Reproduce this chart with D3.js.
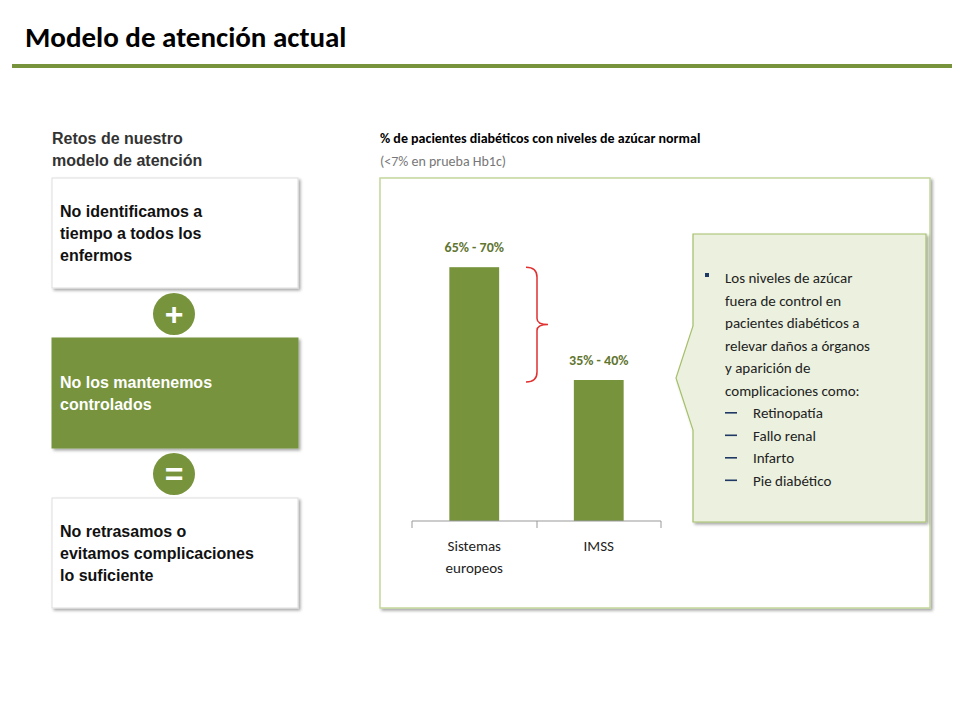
<!DOCTYPE html>
<html><head><meta charset="utf-8">
<script src="https://cdn.jsdelivr.net/npm/d3@7"></script>
<style>body{margin:0;background:#fff}</style>
</head><body>
<svg id="mainplot"></svg>
<script>
var categories = [["Sistemas", "europeos"], ["IMSS"]]
var values = [67.5, 37.5]
var labels = ["65% - 70%", "35% - 40%"]
var retos = [["No identificamos a", "tiempo a todos los", "enfermos"], ["No los mantenemos", "controlados"], ["No retrasamos o", "evitamos complicaciones", "lo suficiente"]]
var operators = ["+", "="]
var bullets = ["Los niveles de azúcar", "fuera de control en", "pacientes diabéticos a", "relevar daños a órganos", "y aparición de", "complicaciones como:"]
var subitems = ["Retinopatía", "Fallo renal", "Infarto", "Pie diabético"]

var width = 960, height = 720
var green = "#77933c"
var graph = d3.select("#mainplot").attr("width", width).attr("height", height)
	.style("font-family", "Arial, 'Liberation Sans', sans-serif")

var defs = graph.append("defs")
var f = defs.append("filter").attr("id", "sh").attr("x", "-10%").attr("y", "-10%").attr("width", "130%").attr("height", "130%")
f.append("feDropShadow").attr("dx", 2).attr("dy", 2).attr("stdDeviation", 1.5).attr("flood-color", "#000").attr("flood-opacity", 0.35)

graph.append("text").attr("x", 25).attr("y", 47).attr("font-size", 29).attr("font-weight", "bold")
	.attr("font-family", "Calibri, Carlito, 'Liberation Sans', sans-serif").text("Modelo de atención actual")
graph.append("rect").attr("x", 12).attr("y", 64).attr("width", 940).attr("height", 4).attr("fill", green)

// left column
graph.append("text").attr("x", 52).attr("y", 144).attr("font-size", 16).attr("font-weight", "bold").attr("fill", "#333")
	.selectAll("tspan").data(["Retos de nuestro", "modelo de atención"]).join("tspan")
	.attr("x", 52).attr("dy", (d, i) => i ? 22 : 0).text(d => d)

retos.forEach(function (lines, i) {
	var y = 178 + i * 160
	graph.append("rect").attr("x", 52).attr("y", y).attr("width", 246).attr("height", 110)
		.attr("fill", i == 1 ? green : "#fff").attr("stroke", i == 1 ? green : "#ddd").attr("filter", "url(#sh)")
	var ty = y + 55 - (lines.length - 1) * 11 + 6
	graph.append("text").attr("font-size", 16).attr("font-weight", "bold").attr("fill", i == 1 ? "#fff" : "#111")
		.selectAll("tspan").data(lines).join("tspan")
		.attr("x", 60).attr("y", (d, j) => ty + j * 22).text(d => d)
})
operators.forEach(function (op, i) {
	var cy = 314 + i * 160
	graph.append("circle").attr("cx", 174).attr("cy", cy).attr("r", 21).attr("fill", green)
	graph.append("text").attr("x", 174).attr("y", cy + 11).attr("text-anchor", "middle").attr("font-size", 32)
		.attr("font-weight", "bold").attr("fill", "#fff").text(op)
})

// right panel
var cal = "Calibri, Carlito, 'Open Sans', sans-serif"
graph.append("text").attr("x", 380).attr("y", 143).attr("font-size", 14).attr("font-weight", "bold").attr("font-family", cal)
	.text("% de pacientes diabéticos con niveles de azúcar normal")
graph.append("text").attr("x", 380).attr("y", 166).attr("font-size", 14).attr("fill", "#777").attr("font-family", cal)
	.text("(<7% en prueba Hb1c)")
graph.append("rect").attr("x", 380).attr("y", 178).attr("width", 550).attr("height", 430)
	.attr("fill", "#fff").attr("stroke", "#c3d69b").attr("stroke-width", 1.5).attr("filter", "url(#sh)")

var x = d3.scaleBand().domain(d3.range(values.length)).range([412, 661]).paddingInner(0.6).paddingOuter(0.3)
var y = d3.scaleLinear().domain([0, 100]).range([521, 145])
graph.append("g").selectAll("rect").data(values).join("rect")
	.attr("x", (d, i) => x(i)).attr("width", x.bandwidth()).attr("y", d => y(d)).attr("height", d => 521 - y(d)).attr("fill", green)
graph.append("g").selectAll("text").data(values).join("text")
	.attr("x", (d, i) => x(i) + x.bandwidth() / 2).attr("y", d => y(d) - 15).attr("text-anchor", "middle")
	.attr("font-size", 14).attr("font-weight", "bold").attr("fill", "#5f7530").attr("font-family", cal)
	.text((d, i) => labels[i])
var ax = graph.append("g").attr("stroke", "#999")
ax.append("line").attr("x1", 412).attr("x2", 661).attr("y1", 521).attr("y2", 521)
;[412, 537, 661].forEach(v => ax.append("line").attr("x1", v).attr("x2", v).attr("y1", 521).attr("y2", 528))
categories.forEach(function (lines, i) {
	graph.append("text").attr("font-size", 15).attr("font-family", cal).attr("text-anchor", "middle").attr("fill", "#222")
		.selectAll("tspan").data(lines).join("tspan")
		.attr("x", x(i) + x.bandwidth() / 2).attr("y", (d, j) => 551 + j * 22).text(d => d)
})
// bracket
var t = y(values[0]), b = y(values[1]) + 2, m = (t + b) / 2
graph.append("path").attr("fill", "none").attr("stroke", "#e03030").attr("stroke-width", 1.5)
	.attr("d", `M526,${t} Q537,${t} 537,${t + 10} L537,${m - 6} Q537,${m} 548,${m} Q537,${m} 537,${m + 6} L537,${b - 10} Q537,${b} 526,${b}`)

// callout
graph.append("path").attr("fill", "#ebf1de").attr("stroke", "#a6bf6a").attr("stroke-width", 1.2).attr("filter", "url(#sh)")
	.attr("d", "M693,234 L926,234 L926,522 L693,522 L693,430 L676,378 L693,326 Z")
graph.append("rect").attr("x", 705).attr("y", 273).attr("width", 4).attr("height", 4).attr("fill", "#1f3864")
graph.append("g").selectAll("text").data(bullets).join("text")
	.attr("x", 725).attr("y", (d, i) => 283 + i * 22.5).attr("font-size", 15).attr("font-family", cal).attr("fill", "#222").text(d => d)
var sy = 283 + bullets.length * 22.5
graph.append("g").selectAll("text").data(subitems).join("text")
	.attr("x", 753).attr("y", (d, i) => sy + i * 22.5).attr("font-size", 15).attr("font-family", cal).attr("fill", "#222").text(d => d)
graph.append("g").selectAll("rect").data(subitems).join("rect")
	.attr("x", 725).attr("y", (d, i) => sy - 6 + i * 22.5).attr("width", 12).attr("height", 1.6).attr("fill", "#1f3864")
</script>
</body></html>
